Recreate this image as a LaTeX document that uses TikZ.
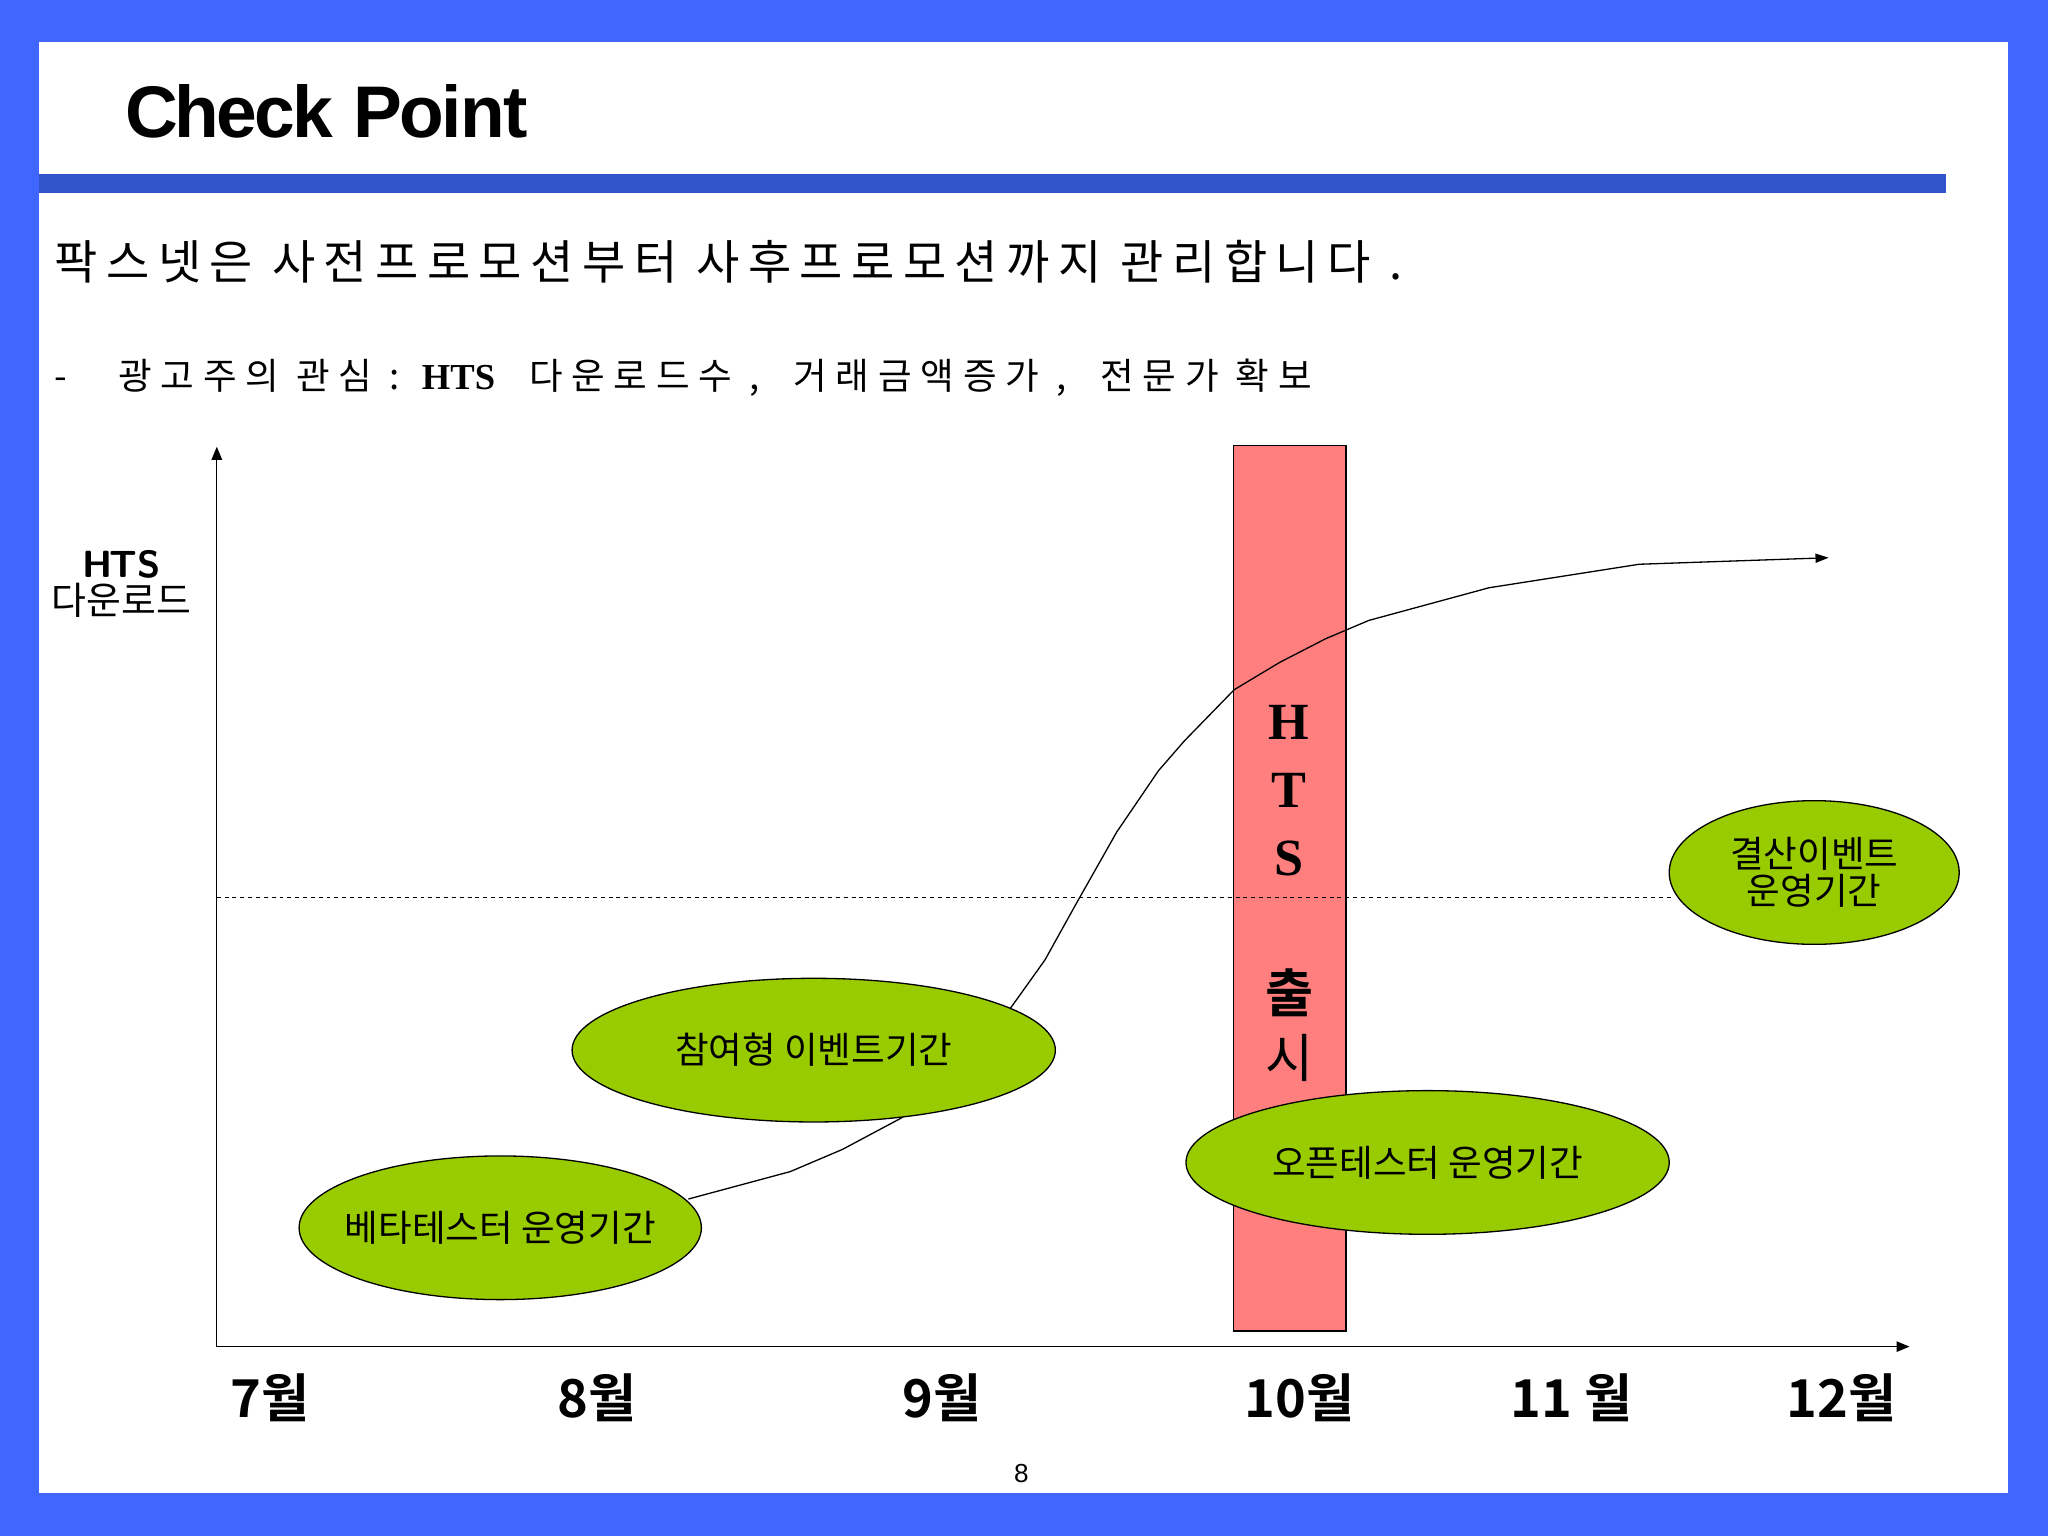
\documentclass[tikz,border=0pt]{standalone}
\usepackage{fontspec}
\setmainfont{Liberation Sans}
\newfontfamily\kr{Noto Sans CJK KR}
\newfontfamily\krb{Noto Sans CJK KR Bold}
\newfontfamily\krwide[LetterSpace=18]{Noto Sans CJK KR}
\newfontfamily\krwidetwo[LetterSpace=24]{Noto Sans CJK KR}
\usetikzlibrary{arrows.meta,shapes.geometric}
\definecolor{frame}{HTML}{3F66FF}
\definecolor{bar}{HTML}{3355CC}
\definecolor{redbox}{HTML}{FF7F7F}
\definecolor{ell}{HTML}{99CC00}
\tikzset{evtext/.style={font=\kr\fontsize{28}{32}\selectfont,align=center},
ellfill/.style={draw,fill=ell,line width=1pt},
mon/.style={font=\krb\fontsize{40}{40}\selectfont,anchor=center}}
\begin{document}
\begin{tikzpicture}[x=1pt,y=-1pt,line width=1pt]
\fill[frame] (0,0) rectangle (1568,1176);
\fill[white] (30,32) rectangle (1537,1143);
\fill[bar] (30,133) rectangle (1490,148);
\node[anchor=west,font=\bfseries\fontsize{56}{60}\selectfont] (title) at (92,85) {C\kern-3pt h\kern-2pt e\kern-2pt c\kern-2pt k P\kern-2pt o\kern-2pt i\kern-1pt n\kern-1pt t};
\node[anchor=west,font=\krwide\fontsize{36}{40}\selectfont] (l1) at (38,200) {팍스넷은 사전프로모션부터 사후프로모션까지 관리합니다 .};
\node[anchor=west,font=\krwidetwo\fontsize{28}{32}\selectfont] (l2) at (38,289) {-\ \ \ 광고주의 관심 : {\fontspec{Liberation Serif}\bfseries HTS}\ \ 다운로드수 ,\ \ 거래금액증가 ,\ \ 전문가 확보};
\node[font=\kr\fontsize{29}{32}\selectfont,align=center] (yl) at (93,447) {\textbf{\sffamily H\kern-2pt TS}\\[-4pt]다운로드};
\coordinate (o) at (166,1031);
\coordinate (yt) at (166,342);
\coordinate (xt) at (1462,1031);
\draw[-{Triangle[length=10pt,width=8pt]}] (o) -- (yt);
\draw[-{Triangle[length=10pt,width=8pt]}] (o) -- (xt);
\node[draw,fill=redbox,minimum width=86pt,minimum height=678pt,inner sep=0pt] (hts) at (987.5,680) {};
\foreach \t/\yy in {H/553,T/605,S/657}{\node[font=\fontspec{Liberation Serif}\bfseries\fontsize{40}{40}\selectfont] at (987,\yy) {\t};}
\node[font=\krb\fontsize{40}{40}\selectfont] (c1) at (987,760) {출};
\node[font=\kr\fontsize{40}{40}\selectfont] (c2) at (987,810) {시};
\coordinate (d1) at (166,687);
\coordinate (d2) at (1280,687);
\draw[dashed] (d1) -- (d2);
\coordinate (cs) at (527,918);
\coordinate (ce) at (1400,427);
\draw[-{Triangle[length=10pt,width=7pt]}] (cs) -- (605,897) -- (645,880) -- (690,856) -- (740,815) -- (775,770) -- (800,735) -- (825,690) -- (855,637) -- (887,590) -- (907,567) -- (945,528) -- (980,507) -- (1015,489) -- (1048,475) -- (1140,450) -- (1255,432) -- (ce);
\draw[ellfill] (1389,668) ellipse [x radius=111, y radius=55];
\node[evtext] (e1) at (1389,668) {결산이벤트\\[-4pt]운영기간};
\draw[ellfill] (623,804) ellipse [x radius=185, y radius=55];
\node[evtext] (e2) at (623,804) {참여형 이벤트기간};
\draw[ellfill] (383,940) ellipse [x radius=154, y radius=55];
\node[evtext] (e3) at (383,940) {베타테스터 운영기간};
\draw[ellfill] (1093,890) ellipse [x radius=185, y radius=55];
\node[evtext] (e4) at (1093,890) {오픈테스터 운영기간};
\node[mon] (m7) at (207,1070) {7월};
\node[mon] (m8) at (457,1070) {8월};
\node[mon] (m9) at (721,1070) {9월};
\node[mon] (m10) at (995,1070) {10월};
\node[mon] (m11) at (1203,1070) {11 월};
\node[mon] (m12) at (1410,1070) {12월};
\node[font=\fontsize{20}{20}\selectfont] (pg) at (782,1128) {8};
\end{tikzpicture}
\end{document}
